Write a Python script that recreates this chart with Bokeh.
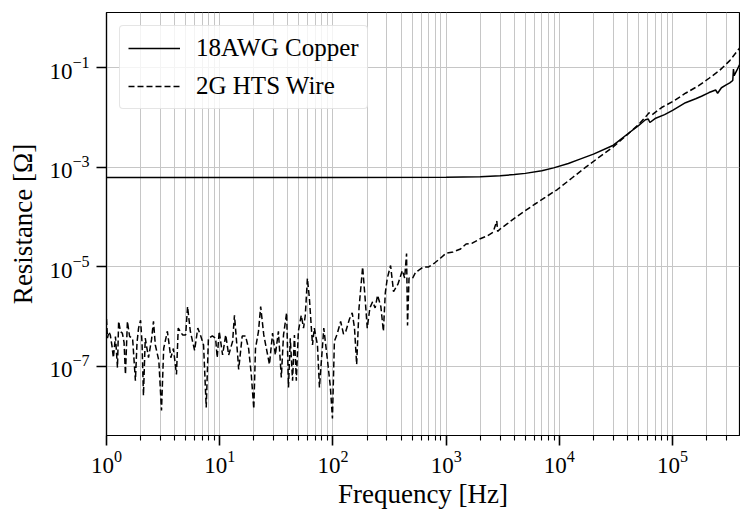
from bokeh.plotting import figure
from bokeh.models import Range1d, FixedTicker, Legend, LegendItem
from bokeh.embed import file_html
from bokeh.resources import INLINE

# ---- data ----
cu_freq = [1.0, 10.0, 100.0, 1000.0, 2000.0, 3000.0, 4000.0, 5000.0, 7000.0, 8900.0,
           1.2e4, 1.5e4, 2.0e4, 3.0e4, 4.0e4, 5.0e4, 5.75e4, 6.1e4, 6.3e4, 7.0e4,
           8.5e4, 1.0e5, 1.3e5, 1.6e5, 1.8e5, 2.1e5, 2.4e5, 2.5e5, 2.7e5, 3.0e5,
           3.2e5, 3.4e5, 3.45e5, 3.5e5, 3.7e5, 3.9e5]
cu_res = [6.3e-4, 6.3e-4, 6.3e-4, 6.35e-4, 6.5e-4, 6.8e-4, 7.2e-4, 7.6e-4, 8.6e-4, 9.8e-4,
          1.2e-3, 1.45e-3, 1.85e-3, 2.8e-3, 4.7e-3, 6.9e-3, 9.1e-3, 9.4e-3, 8.0e-3, 9.6e-3,
          1.15e-2, 1.4e-2, 2.0e-2, 2.4e-2, 2.7e-2, 3.2e-2, 3.6e-2, 3.1e-2, 4.0e-2, 4.6e-2,
          5.0e-2, 5.6e-2, 9.5e-2, 7.0e-2, 9.0e-2, 1.15e-1]

hts_freq = [1.0, 1.02, 1.05, 1.08, 1.12, 1.15, 1.2, 1.25, 1.28, 1.33, 1.38, 1.43, 1.47,
            1.53, 1.6, 1.7, 1.8, 1.86, 1.92, 2.0, 2.06, 2.12, 2.2, 2.35, 2.5, 2.6, 2.7,
            2.9, 3.06, 3.2, 3.45, 3.7, 3.9, 4.15, 4.3, 4.7, 5.0, 5.2, 5.5, 6.0, 6.4,
            6.8, 7.2, 7.6, 7.95, 8.6, 9.2, 9.5, 9.9, 10.6, 11.3, 12.0, 13.0, 13.5, 14.4,
            14.7, 15.8, 16.9, 18.0, 19.0, 20.0, 20.7, 22.0, 23.0, 24.5, 26.5, 27.5, 29.3,
            31.0, 33.0, 35.0, 36.6, 39.0, 40.5, 42.0, 44.0, 45.7, 47.5, 49.5, 52.5, 55.0,
            57.0, 59.5, 62.0, 66.0, 68.5, 73.0, 76.0, 81.0, 83.0, 89.0, 95.0, 99.0,
            103.0, 109.0, 117.0, 124.0, 130.0, 140.0, 148.0, 155.0, 162.0, 170.0, 183.0,
            192.0, 201.0, 212.0, 224.0, 236.0, 248.0, 265.0, 279.0, 290.0, 302.0, 323.0,
            343.0, 375.0, 410.0, 430.0, 447.0, 456.0, 470.0, 505.0, 540.0, 570.0, 630.0,
            700.0, 790.0, 890.0, 1000.0, 1150.0, 1340.0, 1500.0, 1700.0, 2000.0, 2300.0,
            2600.0, 2800.0, 2850.0, 3000.0, 3500.0, 4000.0, 4800.0, 6000.0, 7500.0,
            9600.0, 1.3e4, 1.7e4, 2.2e4, 3.0e4, 4.0e4, 5.0e4, 5.8e4, 6.2e4, 6.6e4,
            8.0e4, 1.0e5, 1.3e5, 1.7e5, 2.1e5, 2.6e5, 3.2e5, 3.9e5]
hts_res = [9.0e-7, 3.7e-7, 5.0e-7, 4.3e-7, 2.5e-7, 1.5e-7, 4.0e-7, 9.5e-8, 8.1e-7, 5.0e-7,
           4.7e-7, 3.0e-7, 6.9e-8, 8.1e-7, 4.0e-7, 3.7e-7, 5.2e-8, 3.0e-7, 5.9e-7, 8.5e-7,
           3.0e-7, 2.6e-8, 3.7e-7, 1.5e-7, 3.5e-7, 8.1e-7, 2.7e-7, 1.3e-7, 1.3e-8, 2.3e-7,
           5.1e-7, 1.5e-7, 2.3e-7, 6.9e-8, 5.9e-7, 4.3e-7, 4.3e-7, 1.6e-6, 5.1e-7, 2.1e-7,
           5.9e-7, 4.1e-7, 2.7e-7, 1.5e-8, 3.7e-7, 4.1e-7, 3.7e-7, 1.5e-7, 5.1e-7, 1.7e-7,
           4.3e-7, 1.7e-7, 3.2e-7, 1.07e-6, 1.7e-7, 8.7e-8, 4.1e-7, 4.1e-7, 2.3e-7, 6.9e-8,
           1.4e-8, 2.3e-7, 5.1e-7, 1.6e-6, 4.3e-7, 1.7e-7, 1.1e-7, 4.7e-7, 1.7e-7, 5.1e-7,
           6.0e-8, 4.3e-7, 1.2e-6, 3.8e-8, 3.7e-7, 5.2e-8, 4.3e-7, 5.2e-8, 5.1e-7, 1.07e-6,
           5.9e-7, 1.07e-6, 5.9e-6, 2.3e-6, 2.7e-7, 5.9e-7, 2.7e-7, 3.8e-8, 2.7e-7, 5.9e-7,
           1.5e-7, 3.8e-8, 9.0e-9, 3.2e-7, 4.5e-7, 8.0e-7, 4.5e-7, 5.1e-7, 9.0e-7, 1.2e-6,
           6.0e-7, 1.1e-7, 1.5e-6, 1.0e-5, 2.5e-6, 5.9e-7, 1.5e-6, 2.0e-6, 1.5e-6, 2.7e-6,
           1.6e-6, 5.1e-7, 3.0e-6, 5.9e-6, 1.07e-5, 3.2e-6, 4.5e-6, 8.5e-6, 6.0e-6, 1.86e-5,
           6.7e-7, 6.0e-6, 5.9e-6, 8.0e-6, 8.5e-6, 1.0e-5, 1.0e-5, 1.2e-5, 1.5e-5, 1.9e-5,
           2.0e-5, 2.3e-5, 2.9e-5, 3.0e-5, 3.7e-5, 4.2e-5, 5.0e-5, 8.4e-5, 5.2e-5, 5.8e-5,
           7.5e-5, 9.5e-5, 1.27e-4, 1.8e-4, 2.5e-4, 3.6e-4, 6.2e-4, 1.0e-3, 1.55e-3, 2.6e-3,
           4.6e-3, 7.3e-3, 1.05e-2, 1.25e-2, 1.15e-2, 1.6e-2, 2.1e-2, 3.1e-2, 4.4e-2, 6.2e-2,
           8.9e-2, 1.4e-1, 2.5e-1]

x_major = [1, 10, 100, 1000, 1e4, 1e5]
x_minor = [m * d for d in [1, 10, 100, 1000, 1e4, 1e5] for m in range(2, 10)]
y_major = [1e-7, 1e-5, 1e-3, 1e-1]

series_labels = ["18AWG Copper", "2G HTS Wire"]
x_label = "Frequency [Hz]"
y_label = "Resistance [Ω]"

FONT = "Liberation Serif"
GRID = "#c6c6c6"

p = figure(width=740, height=511, x_axis_type="log", y_axis_type="log",
           x_range=Range1d(1, 3.9e5), y_range=Range1d(4.1e-9, 1.3),
           output_backend="svg", toolbar_location=None,
           min_border_left=106, min_border_right=1, min_border_top=12,
           min_border_bottom=73)

r_cu = p.line(cu_freq, cu_res, line_color="black", line_width=1.5)
r_hts = p.line(hts_freq, hts_res, line_color="black", line_width=1.5, line_dash="6 3")

xt = FixedTicker(ticks=x_major, minor_ticks=x_minor)
yt = FixedTicker(ticks=y_major, minor_ticks=[])
p.xaxis.ticker = xt
p.xgrid.ticker = xt
p.yaxis.ticker = yt
p.ygrid.ticker = yt

p.xgrid.grid_line_color = GRID
p.xgrid.minor_grid_line_color = GRID
p.ygrid.grid_line_color = GRID
p.xgrid.grid_line_width = 1
p.xgrid.minor_grid_line_width = 1
p.ygrid.grid_line_width = 1

p.outline_line_color = "black"
p.outline_line_width = 1.2
p.outline_line_alpha = 1

for ax in (p.xaxis, p.yaxis):
    ax.axis_line_color = "black"
    ax.axis_line_width = 1.2
    ax.major_tick_in = 0
    ax.major_tick_out = 10
    ax.major_tick_line_width = 1.6
    ax.minor_tick_in = 0
    ax.minor_tick_out = 5
    ax.minor_tick_line_width = 1.1
    ax.major_label_text_font = FONT
    ax.major_label_text_font_size = "23px"
    ax.major_label_text_color = "black"
    ax.axis_label_text_font = FONT
    ax.axis_label_text_font_size = "27px"
    ax.axis_label_text_font_style = "normal"
    ax.axis_label_text_color = "black"
p.yaxis.minor_tick_line_color = None
p.xaxis.axis_label = x_label
p.yaxis.axis_label = y_label
p.xaxis.major_label_standoff = 5
p.yaxis.major_label_standoff = 7
p.xaxis.axis_label_standoff = 3
p.yaxis.axis_label_standoff = 8

legend = Legend(items=[LegendItem(label=series_labels[0], renderers=[r_cu]),
                       LegendItem(label=series_labels[1], renderers=[r_hts])],
                location="top_left", margin=13, padding=8, spacing=10,
                glyph_width=52, glyph_height=26, label_height=26,
                label_standoff=16,
                label_text_font=FONT, label_text_font_size="25px",
                label_text_color="black",
                border_line_color="#cccccc", border_line_width=1,
                background_fill_color="white", background_fill_alpha=0.8)
if "border_radius" in Legend.properties():
    legend.border_radius = 4
p.add_layout(legend)

open("out.html", "w").write(file_html(p, INLINE))
